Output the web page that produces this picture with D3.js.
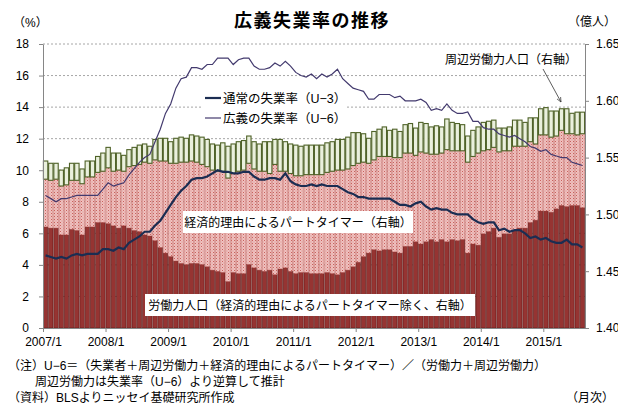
<!DOCTYPE html>
<html>
<head>
<meta charset="utf-8">
<script src="https://cdn.jsdelivr.net/npm/d3@7"></script>
<style>
  body { margin: 0; background: #fff; }
  svg { display: block; }
  text { font-family: "Liberation Sans", "Noto Sans CJK JP", sans-serif; fill: #000; }
</style>
</head>
<body>
<svg id="chart" width="618" height="405"></svg>
<script>
// monthly, 2007/1 - 2015/8
const startYear = 2007, monthCount = 104;
const tickLabels = ["2007/1","2008/1","2009/1","2010/1","2011/1","2012/1","2013/1","2014/1","2015/1"];

// unemployment rates (%)
const u3 = [4.6,4.5,4.4,4.5,4.4,4.6,4.7,4.6,4.7,4.7,4.7,5.0,
  5.0,4.9,5.1,5.0,5.4,5.6,5.8,6.1,6.1,6.5,6.8,7.3,
  7.8,8.3,8.7,9.0,9.4,9.5,9.5,9.6,9.8,10.0,9.9,9.9,
  9.8,9.8,9.9,9.9,9.6,9.4,9.4,9.5,9.5,9.4,9.8,9.3,
  9.1,9.0,9.0,9.1,9.0,9.1,9.0,9.0,9.0,8.8,8.6,8.5,
  8.3,8.3,8.2,8.2,8.2,8.2,8.2,8.0,7.8,7.8,7.7,7.9,
  8.0,7.7,7.5,7.6,7.5,7.5,7.3,7.2,7.2,7.2,6.9,6.7,
  6.6,6.7,6.7,6.2,6.3,6.1,6.2,6.2,6.0,5.7,5.8,5.6,
  5.7,5.5,5.4,5.4,5.6,5.3,5.3,5.1];
const u6 = [8.4,8.2,8.0,8.2,8.2,8.3,8.4,8.4,8.4,8.4,8.4,8.8,
  9.2,9.0,9.1,9.2,9.7,10.1,10.5,10.8,11.0,11.8,12.6,13.6,
  14.2,15.2,15.8,15.9,16.5,16.5,16.4,16.7,16.7,17.1,17.1,17.1,
  16.7,17.0,17.1,17.1,16.6,16.4,16.4,16.5,16.8,16.6,16.9,16.6,
  16.2,16.0,15.9,16.1,15.8,16.1,15.9,16.1,16.4,15.8,15.5,15.2,
  15.1,15.0,14.5,14.5,14.8,14.8,14.8,14.6,14.7,14.4,14.4,14.4,
  14.5,14.3,13.8,13.9,13.8,14.2,13.8,13.6,13.6,13.7,13.1,13.1,
  12.7,12.6,12.6,12.3,12.2,12.1,12.2,12.0,11.8,11.5,11.4,11.2,
  11.3,11.0,10.9,10.8,10.8,10.5,10.4,10.3];

// populations (million persons), right axis shown in 億人
const laborBase = [148.9,148.8,148.8,148.2,148.2,148.7,148.6,148.2,148.9,148.9,149.3,149.3,
  149.2,149.0,148.8,149.0,148.8,148.6,148.5,148.2,148.1,147.7,147.1,146.6,
  146.3,145.9,145.7,145.6,145.7,145.7,145.6,145.4,145.1,145.0,144.9,144.1,
  144.9,144.8,144.8,145.6,145.3,145.1,145.0,145.1,144.7,145.2,145.3,145.0,
  144.8,144.9,144.9,144.8,144.8,144.8,144.9,144.8,144.7,144.9,145.1,145.4,
  145.8,146.3,146.6,146.9,146.8,146.9,146.9,146.7,146.6,147.2,147.2,147.6,
  147.4,147.6,147.8,147.6,147.8,147.6,147.8,147.7,147.8,146.6,147.4,147.3,
  148.3,148.5,148.8,148.0,148.3,148.3,148.6,148.8,148.8,149.3,149.5,150.3,
  150.3,150.2,150.5,150.8,150.7,150.8,150.8,150.6];
const partTime = [4.2,4.2,4.3,4.3,4.4,4.3,4.4,4.5,4.4,4.4,4.4,4.5,
  4.9,4.8,5.1,4.8,5.4,5.7,5.9,6.4,6.4,7.1,7.6,8.1,
  8.2,8.6,8.9,9.0,9.0,8.9,8.8,8.8,8.8,8.8,8.9,9.1,
  8.7,9.0,9.1,8.9,8.7,8.7,8.8,8.5,9.7,8.6,8.5,8.6,
  8.6,8.5,8.6,8.7,8.7,8.7,8.8,9.0,9.2,9.0,8.9,8.9,
  8.7,8.3,7.9,7.9,8.3,8.2,8.2,8.3,8.4,8.2,8.2,7.6,
  8.1,7.8,7.5,7.7,7.6,8.1,7.8,7.9,7.8,8.0,7.7,8.1,
  7.3,7.2,7.1,7.5,7.3,7.3,7.4,7.2,7.2,7.1,6.7,6.7,
  6.7,6.6,6.4,6.6,6.4,6.3,6.2,6.5];
const marginal = [1.6,1.5,1.4,1.4,1.5,1.5,1.5,1.3,1.4,1.4,1.4,1.6,
  1.8,1.6,1.5,1.4,1.5,1.6,1.7,1.6,1.5,1.8,2.0,2.0,
  1.9,2.2,2.2,2.1,2.3,2.3,2.4,2.4,2.3,2.3,2.5,2.8,
  2.6,2.6,2.6,2.4,2.4,2.4,2.6,2.8,2.2,2.8,2.6,2.6,
  2.7,2.6,2.6,2.6,2.6,2.6,2.6,2.6,2.7,2.7,2.8,2.9,
  2.7,2.5,2.2,2.5,2.4,2.6,2.3,2.5,2.3,2.5,2.6,2.4,
  2.6,2.6,2.4,2.5,2.3,2.7,2.5,2.4,2.3,2.3,2.3,2.3,
  2.5,2.5,2.4,2.1,2.0,2.1,2.3,2.3,2.1,2.1,2.3,2.3,
  2.4,2.3,2.2,1.9,2.2,1.8,2.0,1.9];

const months = d3.range(monthCount).map(i => `${startYear + Math.floor(i / 12)}/${i % 12 + 1}`);
const rows = months.map((m, i) => ({ month: m, base: laborBase[i], pt: partTime[i], ma: marginal[i] }));

const svg = d3.select("#chart");
const plotL = 43, plotR = 585, plotT = 44, plotB = 328;

const x = d3.scaleBand().domain(months).range([plotL, plotR]).paddingInner(0.16).paddingOuter(0.08);
const xTick = d3.scaleLinear().domain([0, monthCount]).range([plotL, plotR]);
const yL = d3.scaleLinear().domain([0, 18]).range([plotB, plotT]);
const yR = d3.scaleLinear().domain([140, 165]).range([plotB, plotT]);

const defs = svg.append("defs");
const pat = defs.append("pattern").attr("id", "dots")
  .attr("width", 3).attr("height", 3).attr("patternUnits", "userSpaceOnUse");
pat.append("rect").attr("width", 3).attr("height", 3).attr("fill", "#efc2c0");
pat.append("rect").attr("width", 1).attr("height", 1).attr("fill", "#c9615d");
pat.append("rect").attr("x", 1.5).attr("y", 1.5).attr("width", 1).attr("height", 1).attr("fill", "#dc8f8c");

defs.append("marker").attr("id", "arrow")
  .attr("viewBox", "0 0 10 10").attr("refX", 9).attr("refY", 5)
  .attr("markerWidth", 7).attr("markerHeight", 7).attr("orient", "auto")
  .append("path").attr("d", "M0,1L9,5L0,9").attr("fill", "none").attr("stroke", "#333").attr("stroke-width", 1.2);

// gridlines
svg.append("g").selectAll("line")
  .data(d3.range(2, 19, 2))
  .join("line")
  .attr("x1", plotL).attr("x2", plotR)
  .attr("y1", d => yL(d)).attr("y2", d => yL(d))
  .attr("stroke", "#a6a6a6").attr("stroke-dasharray", "2,2");

// stacked bars
const series = d3.stack().keys(["base", "pt", "ma"])(rows);
const barStyle = {
  base: { fill: "#963432", stroke: "#5c1614", w: 0.6 },
  pt:   { fill: "url(#dots)", stroke: "#c2625e", w: 0.5 },
  ma:   { fill: "#eaf0dd", stroke: "#4f6228", w: 1.1 }
};
svg.append("g").selectAll("g")
  .data(series)
  .join("g")
  .each(function(s) {
    const st = barStyle[s.key];
    d3.select(this).selectAll("rect")
      .data(s)
      .join("rect")
      .attr("x", d => x(d.data.month))
      .attr("width", x.bandwidth())
      .attr("y", d => yR(d[1]))
      .attr("height", d => yR(Math.max(d[0], 140)) - yR(d[1]))
      .attr("fill", st.fill)
      .attr("stroke", st.stroke)
      .attr("stroke-width", st.w);
  });

// lines
const cx = (d, i) => x(months[i]) + x.bandwidth() / 2;
svg.append("path")
  .datum(u6)
  .attr("fill", "none").attr("stroke", "#433a6e").attr("stroke-width", 1.2)
  .attr("d", d3.line().x(cx).y(d => yL(d)));
svg.append("path")
  .datum(u3)
  .attr("fill", "none").attr("stroke", "#1b2d52").attr("stroke-width", 2.2)
  .attr("d", d3.line().x(cx).y(d => yL(d)));

// axes
const styleAxis = g => {
  g.selectAll(".domain, .tick line").attr("stroke", "#868686");
  g.selectAll("text").attr("font-size", 12).attr("fill", "#000");
};
svg.append("g").attr("transform", `translate(${plotL},0)`)
  .call(d3.axisLeft(yL).tickValues(d3.range(0, 19, 2)).tickSize(4).tickSizeOuter(0).tickPadding(10))
  .call(styleAxis);
svg.append("g").attr("transform", `translate(${plotR},0)`)
  .call(d3.axisRight(yR).tickValues(d3.range(140, 166, 5)).tickFormat(d => (d / 100).toFixed(2))
    .tickSize(4).tickSizeOuter(0).tickPadding(7))
  .call(styleAxis);
svg.append("g").attr("transform", `translate(0,${plotB})`)
  .call(d3.axisBottom(xTick).tickValues(d3.range(0, monthCount, 12)).tickFormat((d, i) => tickLabels[i])
    .tickSize(4).tickSizeOuter(0).tickPadding(5))
  .call(styleAxis);

// title and units
svg.append("text").attr("x", 312).attr("y", 27).attr("text-anchor", "middle")
  .attr("font-size", 18).attr("font-weight", "bold").attr("letter-spacing", 1.5).text("広義失業率の推移");
svg.append("text").attr("x", 13).attr("y", 27).attr("font-size", 12).text("（%）");
svg.append("text").attr("x", 568).attr("y", 26).attr("font-size", 12).text("（億人）");

// legend
const legend = svg.append("g");
legend.append("rect").attr("x", 201).attr("y", 88).attr("width", 144).attr("height", 40).attr("fill", "#fff");
[["通常の失業率（U−3）", "#1b2d52", 2.2, 98], ["広義の失業率（U−6）", "#433a6e", 1.2, 118]].forEach(([t, c, w, y]) => {
  legend.append("line").attr("x1", 205).attr("x2", 221).attr("y1", y).attr("y2", y).attr("stroke", c).attr("stroke-width", w);
  legend.append("text").attr("x", 223).attr("y", y + 4.5).attr("font-size", 12.5).text(t);
});

// annotations
svg.append("text").attr("x", 445).attr("y", 64).attr("font-size", 12).text("周辺労働力人口（右軸）");
svg.append("line").attr("x1", 543).attr("y1", 69).attr("x2", 561).attr("y2", 102)
  .attr("stroke", "#333").attr("stroke-width", 0.8).attr("marker-end", "url(#arrow)");

const boxLabel = (cxp, cy, w, t) => {
  svg.append("rect").attr("x", cxp - w / 2).attr("y", cy - 11).attr("width", w).attr("height", 22).attr("fill", "#fff");
  svg.append("text").attr("x", cxp).attr("y", cy + 4.5).attr("text-anchor", "middle").attr("font-size", 12).text(t);
};
boxLabel(298, 222, 230, "経済的理由によるパートタイマー（右軸）");
boxLabel(310, 305, 330, "労働力人口（経済的理由によるパートタイマー除く、右軸）");

// notes
svg.append("text").attr("x", 8).attr("y", 370).attr("font-size", 12)
  .text("（注）U−6＝（失業者＋周辺労働力＋経済的理由によるパートタイマー）／（労働力＋周辺労働力）");
svg.append("text").attr("x", 35).attr("y", 386).attr("font-size", 12)
  .text("周辺労働力は失業率（U−6）より逆算して推計");
svg.append("text").attr("x", 8).attr("y", 402).attr("font-size", 12)
  .text("（資料）BLSよりニッセイ基礎研究所作成");
svg.append("text").attr("x", 614).attr("y", 402).attr("text-anchor", "end").attr("font-size", 12).text("（月次）");
</script>
</body>
</html>
